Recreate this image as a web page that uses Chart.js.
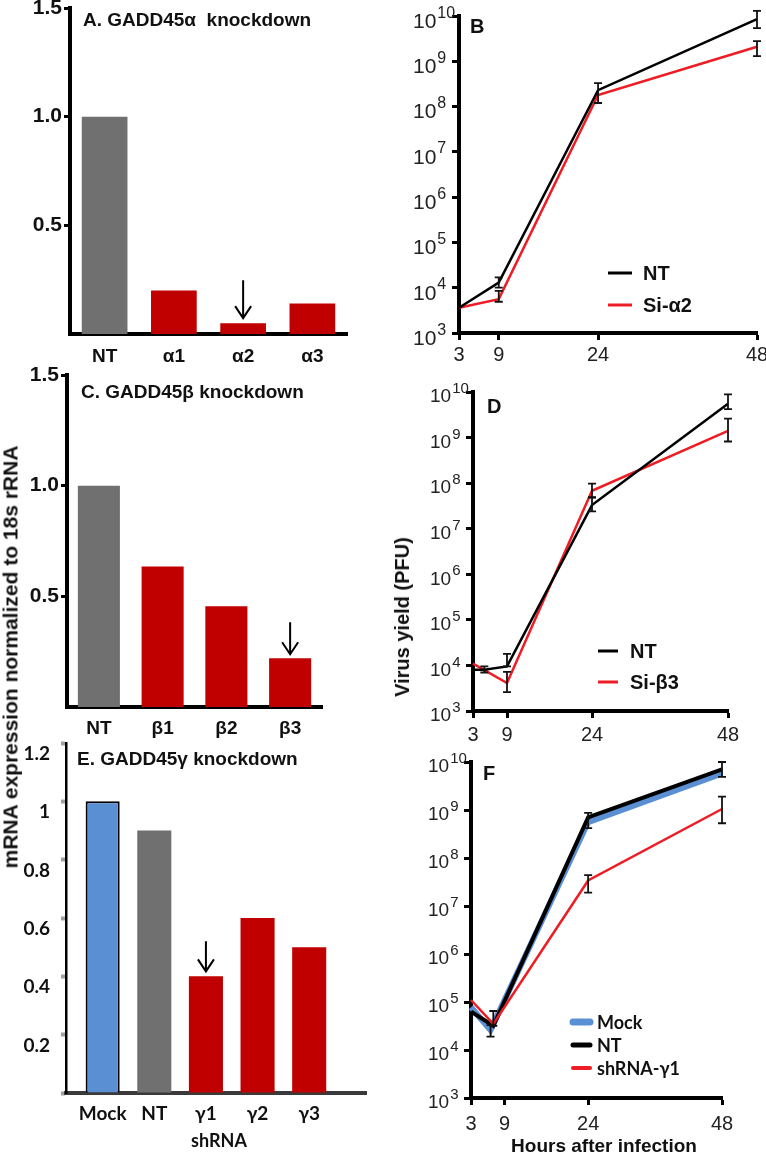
<!DOCTYPE html>
<html>
<head>
<meta charset="utf-8">
<script src="https://cdn.jsdelivr.net/npm/chart.js@4.4.0/dist/chart.umd.min.js"></script>
<style>
  body { margin: 0; background: #fff; }
  #page { position: relative; width: 766px; height: 1154px; overflow: hidden; background: #fff;
          font-family: "Liberation Sans", Arial, sans-serif; color: #111; }
  canvas { position: absolute; }
  .txt { position: absolute; font-weight: bold; white-space: nowrap; line-height: 1; }
  .rot { position: absolute; font-weight: bold; white-space: nowrap; line-height: 1;
         transform: translate(-50%, -50%) rotate(-90deg); }
</style>
</head>
<body>
<div id="page">
  <canvas id="cA" width="380" height="372" style="left:0;top:0"></canvas>
  <canvas id="cB" width="386" height="372" style="left:380px;top:0"></canvas>
  <canvas id="cC" width="380" height="385" style="left:0;top:360px"></canvas>
  <canvas id="cD" width="386" height="372" style="left:380px;top:372px"></canvas>
  <canvas id="cE" width="380" height="424" style="left:0;top:730px"></canvas>
  <canvas id="cF" width="386" height="414" style="left:380px;top:740px"></canvas>

  <div class="txt" style="left:83px;top:10px;font-size:19px">A. GADD45&alpha;&nbsp; knockdown</div>
  <div class="txt" style="left:81px;top:382px;font-size:19px">C. GADD45&beta; knockdown</div>
  <div class="txt" style="left:77px;top:749px;font-size:19px">E. GADD45&gamma; knockdown</div>
  <div class="txt" style="left:470px;top:16px;font-size:20px">B</div>
  <div class="txt" style="left:487px;top:396px;font-size:20px">D</div>
  <div class="txt" style="left:483px;top:763px;font-size:20px">F</div>
  <div class="rot" style="left:10px;top:657px;font-size:21px">mRNA expression normalized to 18s rRNA</div>
  <div class="rot" style="left:402px;top:617px;font-size:20px">Virus yield (PFU)</div>
  <div class="txt" style="left:604px;top:1136px;font-size:19px;transform:translateX(-50%)">Hours after infection</div>
  <div class="txt" style="left:219px;top:1131px;font-size:18px;font-family:Lato,sans-serif;transform:translateX(-50%)">shRNA</div>
</div>

<script>
// ---- bar panels (A, C, E) ----
var catsA = ['NT', 'α1', 'α2', 'α3'];
var valsA = [1.0, 0.2, 0.05, 0.14];
var ticksA = [0.5, 1.0, 1.5];

var catsC = ['NT', 'β1', 'β2', 'β3'];
var valsC = [1.0, 0.635, 0.455, 0.22];
var ticksC = [0.5, 1.0, 1.5];

var catsE = ['Mock', 'NT', 'γ1', 'γ2', 'γ3'];
var valsE = [1.0, 0.9, 0.4, 0.6, 0.5];
var ticksE = [0, 0.2, 0.4, 0.6, 0.8, 1.0, 1.2];

// ---- growth curves (B, D, F) ----
var hourTicks = [3, 9, 24, 48];
var decadeTicks = [1e3, 1e4, 1e5, 1e6, 1e7, 1e8, 1e9, 1e10];

var hoursB = [3, 9, 24, 48];
var ntB = [3.6e3, 1.3e4, 2.3e8, 8.5e9];
var ntLoB = [null, 1.0e4, 1.2e8, 5.4e9];
var ntHiB = [null, 1.7e4, 3.3e8, 1.3e10];
var siB = [3.6e3, 5.6e3, 1.8e8, 2.1e9];
var siLoB = [null, 4.9e3, null, 1.3e9];
var siHiB = [null, 8.5e3, null, 2.8e9];

var ntHoursD = [3, 5, 9, 24, 48];
var ntD = [8e3, 8e3, 9.5e3, 3.3e7, 5.5e9];
var ntLoD = [null, 7e3, 9.5e3, 2.4e7, 4.2e9];
var ntHiD = [null, 9.5e3, 1.8e4, 4.9e7, 8.9e9];
var siHoursD = [3, 9, 24, 48];
var siD = [1.1e4, 4.1e3, 6.8e7, 1.4e9];
var siLoD = [null, 2.6e3, 4.8e7, 8.2e8];
var siHiD = [null, 7.2e3, 9.8e7, 2.6e9];

var mockHoursF = [3, 6.5, 24, 48];
var mockF = [7.8e4, 2.6e4, 5.6e8, 5.8e9];
var mockLoF = [null, 1.9e4, null, null];
var mockHiF = [null, 3.3e4, null, null];
var hoursF = [3, 7, 24, 48];
var ntF = [6.3e4, 3.2e4, 7e8, 7e9];
var ntLoF = [null, 3.2e4, 4.2e8, 4.9e9];
var ntHiF = [null, 6.5e4, 8.7e8, 1e10];
var shF = [1.1e5, 3.5e4, 3.4e7, 1.05e9];
var shLoF = [null, null, 1.9e7, 5.3e8];
var shHiF = [null, null, 4.4e7, 1.9e9];

var GRAY = '#707070', DARKRED = '#c00000', RED = '#ee1c24', BLUE = '#5a8fd3';

Chart.defaults.font.family = '"Liberation Sans", Arial, sans-serif';
Chart.defaults.color = '#111';
Chart.defaults.animation = false;

// fixes the plot area inside each canvas
function frame(w, h, a) {
  return {
    padding: { left: 0, top: a.top, right: w - a.right, bottom: 0 },
    yFit: function(s) { s.width = a.left; s.paddingTop = 0; s.paddingBottom = 0; },
    xFit: function(s) { s.height = h - a.bottom; s.paddingLeft = 0; s.paddingRight = 0; }
  };
}

function pts(xs, ys) {
  return xs.map(function(x, i) { return { x: x, y: ys[i] }; });
}

// "10" with exponent, drawn at the log scale's tick positions
var powLabels = {
  id: 'powLabels',
  afterDraw: function(chart, args, o) {
    var s = chart.scales.y, ctx = chart.ctx;
    var x0 = chart.chartArea.left - o.offset;
    ctx.save();
    ctx.fillStyle = '#222';
    ctx.textBaseline = 'middle';
    ctx.textAlign = 'left';
    s.ticks.forEach(function(t) {
      var py = s.getPixelForValue(t.value);
      var e = Math.round(Math.log10(t.value));
      ctx.font = o.size + 'px "Liberation Sans", Arial';
      ctx.fillText('10', x0, py + o.shift);
      var w = ctx.measureText('10').width;
      ctx.font = o.exp + 'px "Liberation Sans", Arial';
      ctx.fillText(String(e), x0 + w + 1, py + o.shift - o.size * 0.42);
    });
    ctx.restore();
  }
};

var errorBars = {
  id: 'errorBars',
  afterDatasetsDraw: function(chart) {
    var ctx = chart.ctx, s = chart.scales.y;
    ctx.save();
    ctx.strokeStyle = '#111';
    ctx.lineWidth = 1.8;
    chart.data.datasets.forEach(function(ds, d) {
      if (!ds.errLo) return;
      chart.getDatasetMeta(d).data.forEach(function(pt, i) {
        if (ds.errLo[i] == null) return;
        var y0 = s.getPixelForValue(ds.errLo[i]), y1 = s.getPixelForValue(ds.errHi[i]);
        ctx.beginPath();
        ctx.moveTo(pt.x, y0); ctx.lineTo(pt.x, y1);
        ctx.moveTo(pt.x - 4, y0); ctx.lineTo(pt.x + 4, y0);
        ctx.moveTo(pt.x - 4, y1); ctx.lineTo(pt.x + 4, y1);
        ctx.stroke();
      });
    });
    ctx.restore();
  }
};

var lineLegend = {
  id: 'lineLegend',
  afterDraw: function(chart, args, o) {
    var ctx = chart.ctx;
    ctx.save();
    chart.data.datasets.forEach(function(ds, i) {
      var y = o.y + i * o.dy;
      ctx.strokeStyle = ds.borderColor;
      ctx.lineWidth = o.widths[i];
      ctx.lineCap = o.cap || 'butt';
      ctx.beginPath(); ctx.moveTo(o.x, y); ctx.lineTo(o.x + o.len, y); ctx.stroke();
      ctx.fillStyle = '#111';
      ctx.font = o.font;
      ctx.textBaseline = 'middle';
      ctx.fillText(ds.label, o.x + o.len + o.pad, y + 1);
    });
    ctx.restore();
  }
};

// down arrow above the chosen bar
var arrowMark = {
  id: 'arrowMark',
  afterDatasetsDraw: function(chart, args, o) {
    var bar = chart.getDatasetMeta(0).data[o.index];
    var ctx = chart.ctx, x = bar.x, yEnd = bar.y - o.gap, yStart = yEnd - o.len;
    ctx.save();
    ctx.strokeStyle = '#000';
    ctx.lineWidth = 2;
    ctx.beginPath();
    ctx.moveTo(x, yStart); ctx.lineTo(x, yEnd);
    ctx.moveTo(x - 8, yEnd - 12); ctx.lineTo(x, yEnd); ctx.lineTo(x + 8, yEnd - 12);
    ctx.stroke();
    ctx.restore();
  }
};

function barChart(id, w, h, area, cats, vals, colors, ticks, arrow, pad) {
  var f = frame(w, h, area);
  return new Chart(document.getElementById(id), {
    type: 'bar',
    data: { labels: cats, datasets: [{ data: vals, backgroundColor: colors,
      barPercentage: 0.66, categoryPercentage: 1 }] },
    options: {
      responsive: false,
      layout: { padding: f.padding },
      plugins: { legend: { display: false }, tooltip: { enabled: false }, arrowMark: arrow },
      scales: {
        x: {
          afterFit: f.xFit,
          grid: { display: false, drawTicks: false },
          border: { color: '#000', width: 4 },
          ticks: { padding: pad, font: { size: 19, weight: 'bold' }, color: '#111' }
        },
        y: {
          min: 0, max: 1.5,
          afterFit: f.yFit,
          afterBuildTicks: function(s) { s.ticks = ticks.map(function(v) { return { value: v }; }); },
          grid: { drawOnChartArea: false, drawTicks: true, tickLength: 6, tickWidth: 3, tickColor: '#000' },
          border: { color: '#000', width: 4 },
          ticks: { padding: 2, font: { size: 21, weight: 'bold' }, color: '#111',
            callback: function(v) { return v.toFixed(1); } }
        }
      }
    },
    plugins: [arrowMark]
  });
}

barChart('cA', 380, 372, { left: 70, top: 8, right: 347, bottom: 334 }, catsA, valsA,
  [GRAY, DARKRED, DARKRED, DARKRED], ticksA, { index: 2, len: 38, gap: 5 }, 11);
barChart('cC', 380, 385, { left: 67, top: 15, right: 322, bottom: 347 }, catsC, valsC,
  [GRAY, DARKRED, DARKRED, DARKRED], ticksC, { index: 3, len: 32, gap: 4 }, 10);

// panel E: bars sit on a linear index axis so the spacing can follow the figure
(function() {
  var f = frame(380, 424, { left: 66, top: 13, right: 366, bottom: 363 });
  new Chart(document.getElementById('cE'), {
    type: 'bar',
    data: { datasets: [{
      data: pts(catsE.map(function(c, i) { return i; }), valsE),
      backgroundColor: [BLUE, GRAY, DARKRED, DARKRED, DARKRED],
      borderColor: ['#000', GRAY, DARKRED, DARKRED, DARKRED],
      borderWidth: [2, 0, 0, 0, 0],
      barPercentage: 0.66, categoryPercentage: 1
    }] },
    options: {
      responsive: false,
      layout: { padding: f.padding },
      plugins: { legend: { display: false }, tooltip: { enabled: false },
        arrowMark: { index: 2, len: 30, gap: 5 } },
      scales: {
        x: {
          type: 'linear', min: -0.71, max: 5.1, offset: false,
          afterFit: f.xFit,
          afterBuildTicks: function(s) { s.ticks = catsE.map(function(c, i) { return { value: i }; }); },
          grid: { display: false, drawTicks: false },
          border: { color: '#3a3a3a', width: 4 },
          ticks: { padding: 9, font: { family: 'Lato, sans-serif', size: 19, weight: 'bold' }, color: '#111',
            callback: function(v) { return catsE[v]; } }
        },
        y: {
          min: 0, max: 1.2,
          afterFit: f.yFit,
          afterBuildTicks: function(s) { s.ticks = ticksE.map(function(v) { return { value: v }; }); },
          grid: { drawOnChartArea: false, drawTicks: true, tickLength: 5, tickWidth: 4, tickColor: '#a0a0a0' },
          border: { color: '#000', width: 2.5 },
          ticks: { padding: 11, labelOffset: 11, font: { family: 'Lato, sans-serif', size: 19, weight: 'bold' },
            color: '#111',
            callback: function(v) { return v === 0 ? '' : String(+v.toFixed(1)); } }
        }
      }
    },
    plugins: [arrowMark]
  });
})();

function lineChart(id, w, h, area, datasets, legend, pow, pad) {
  var f = frame(w, h, area);
  return new Chart(document.getElementById(id), {
    type: 'line',
    data: { datasets: datasets },
    options: {
      responsive: false,
      layout: { padding: f.padding },
      elements: { point: { radius: 0 }, line: { tension: 0 } },
      plugins: { legend: { display: false }, tooltip: { enabled: false },
        lineLegend: legend, powLabels: pow },
      scales: {
        x: {
          type: 'linear', min: 3, max: 48,
          afterFit: f.xFit,
          afterBuildTicks: function(s) { s.ticks = hourTicks.map(function(v) { return { value: v }; }); },
          grid: { drawOnChartArea: false, drawTicks: true, tickLength: 7, tickWidth: 3, tickColor: '#000' },
          border: { color: '#000', width: 4 },
          ticks: { padding: pad, font: { size: 20 }, color: '#222' }
        },
        y: {
          type: 'logarithmic', min: 1e3, max: 1e10,
          afterFit: f.yFit,
          afterBuildTicks: function(s) { s.ticks = decadeTicks.map(function(v) { return { value: v }; }); },
          grid: { drawOnChartArea: false, drawTicks: true, tickLength: 7, tickWidth: 3, tickColor: '#000' },
          border: { color: '#000', width: 4 },
          ticks: { callback: function() { return ''; } }
        }
      }
    },
    plugins: [errorBars, lineLegend, powLabels]
  });
}

lineChart('cB', 386, 372, { left: 79, top: 16, right: 377, bottom: 333 }, [
  { label: 'NT', data: pts(hoursB, ntB), errLo: ntLoB, errHi: ntHiB, borderColor: '#000', borderWidth: 2.5, clip: false },
  { label: 'Si-α2', data: pts(hoursB, siB), errLo: siLoB, errHi: siHiB, borderColor: RED, borderWidth: 2.5, clip: false }
], { x: 228, y: 273, dy: 32, len: 24, pad: 11, widths: [3, 3], font: 'bold 20px "Liberation Sans", Arial' },
   { size: 21, exp: 16, offset: 46, shift: 6 }, 3);

lineChart('cD', 386, 372, { left: 93, top: 20, right: 348, bottom: 339 }, [
  { label: 'NT', data: pts(ntHoursD, ntD), errLo: ntLoD, errHi: ntHiD, borderColor: '#000', borderWidth: 2.5, clip: false },
  { label: 'Si-β3', data: pts(siHoursD, siD), errLo: siLoD, errHi: siHiD, borderColor: RED, borderWidth: 2.5, clip: false }
], { x: 218, y: 279, dy: 31, len: 20, pad: 12, widths: [3, 3], font: 'bold 20px "Liberation Sans", Arial' },
   { size: 19, exp: 15, offset: 43, shift: 5 }, 5);

lineChart('cF', 386, 414, { left: 91, top: 22, right: 342, bottom: 358 }, [
  { label: 'Mock', data: pts(mockHoursF, mockF), errLo: mockLoF, errHi: mockHiF, borderColor: BLUE, borderWidth: 6, order: 3, clip: false },
  { label: 'NT', data: pts(hoursF, ntF), errLo: ntLoF, errHi: ntHiF, borderColor: '#000', borderWidth: 4, order: 2, clip: false },
  { label: 'shRNA-γ1', data: pts(hoursF, shF), errLo: shLoF, errHi: shHiF, borderColor: RED, borderWidth: 2.5, order: 1, clip: false }
], { x: 193, y: 282, dy: 23, len: 17, pad: 7, widths: [7, 5, 4], cap: 'round', font: 'bold 18px Lato, sans-serif' },
   { size: 19, exp: 15, offset: 43, shift: 5 }, 7);
</script>
</body>
</html>
